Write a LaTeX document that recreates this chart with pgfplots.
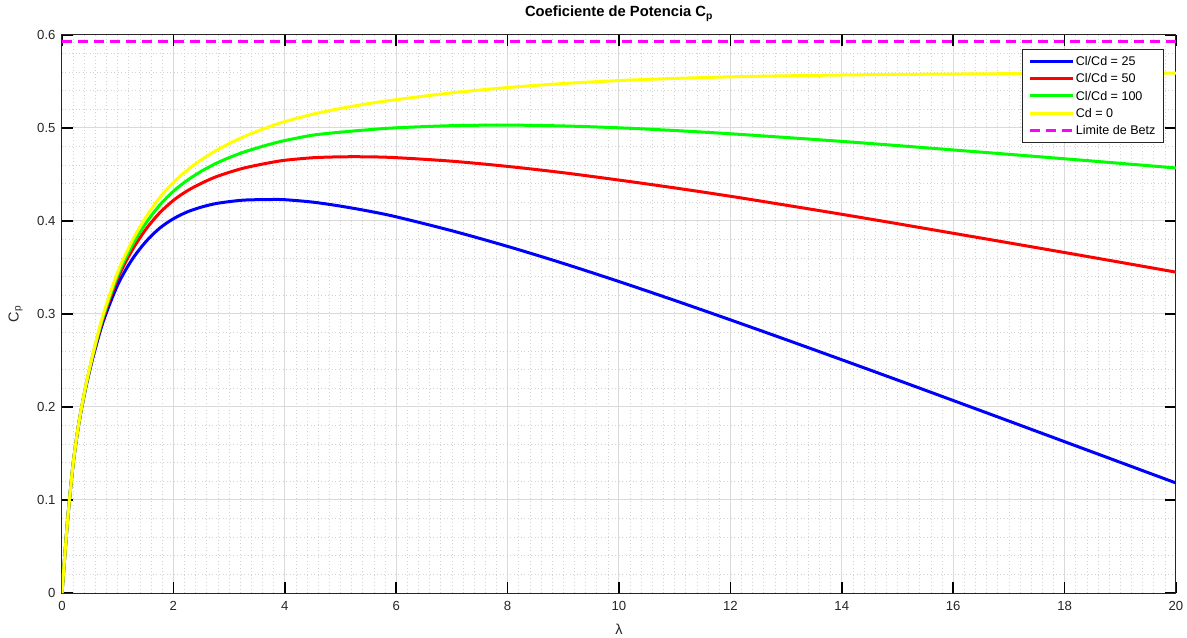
\documentclass[border=0pt]{standalone}
\usepackage{pgfplots}
\pgfplotsset{compat=1.18}
\usepackage{fontspec}
\setmainfont{Liberation Sans}
\definecolor{axgray}{HTML}{262626}
\definecolor{gridmaj}{HTML}{DADADA}
\definecolor{gridmin}{HTML}{D2D2D2}
\definecolor{mblue}{RGB}{0,0,255}
\definecolor{mred}{RGB}{255,0,0}
\definecolor{mgreen}{RGB}{0,255,0}
\definecolor{myellow}{RGB}{255,255,0}
\definecolor{mmagenta}{RGB}{255,0,255}

% curvas (lambda, Cp)
\pgfplotstableread{
l cp
0 0
0.1 0.078
0.2 0.139
0.3 0.182
0.4 0.215
0.5 0.243
0.6 0.268
0.75 0.3015
1.0 0.345
1.25 0.3775
1.5 0.4035
1.75 0.4248
2.0 0.4415
2.25 0.4548
2.5 0.4658
2.75 0.4752
3.0 0.4832
3.25 0.4903
3.5 0.4964
3.75 0.5019
4.0 0.5069
4.5 0.5148
5.0 0.521
5.5 0.5262
6.0 0.5305
7.0 0.5378
8.0 0.5435
9.0 0.5478
10.0 0.551
11.0 0.5533
12.0 0.555
13.0 0.5561
14.0 0.557
15.0 0.5576
16.0 0.558
17.0 0.5584
18.0 0.5587
19.0 0.5589
20.0 0.559
}\cdzero
\pgfplotstableread{
l cp
0 0
0.1 0.078
0.2 0.139
0.3 0.1818
0.4 0.2145
0.5 0.2422
0.6 0.2668
0.75 0.2994
1.0 0.3417
1.25 0.3727
1.5 0.3972
1.75 0.4168
2.0 0.432
2.25 0.4438
2.5 0.4534
2.75 0.4615
3.0 0.4681
3.25 0.4738
3.5 0.4785
3.75 0.4828
4.0 0.4865
4.5 0.4923
5.0 0.4955
5.5 0.4981
6.0 0.5002
7.0 0.5025
8.0 0.5031
9.0 0.5022
10.0 0.5002
11.0 0.4973
12.0 0.4938
13.0 0.4898
14.0 0.4856
15.0 0.4811
16.0 0.4764
17.0 0.4717
18.0 0.4669
19.0 0.462
20.0 0.457
}\clcdcien
\pgfplotstableread{
l cp
0 0
0.1 0.078
0.2 0.1389
0.3 0.1816
0.4 0.2141
0.5 0.2414
0.6 0.2656
0.75 0.2974
1.0 0.3382
1.25 0.3677
1.5 0.3906
1.75 0.4085
2.0 0.4222
2.25 0.4325
2.5 0.4405
2.75 0.4472
3.0 0.4523
3.25 0.4567
3.5 0.46
3.75 0.4629
4.0 0.4653
4.5 0.468
5.0 0.469
5.5 0.469
6.0 0.4681
7.0 0.4643
8.0 0.4587
9.0 0.4519
10.0 0.444
11.0 0.4356
12.0 0.4266
13.0 0.417
14.0 0.4072
15.0 0.3971
16.0 0.3868
17.0 0.3765
18.0 0.3661
19.0 0.3556
20.0 0.345
}\clcdcincuenta
\pgfplotstableread{
l cp
0 0
0.1 0.078
0.2 0.1387
0.3 0.1811
0.4 0.2132
0.5 0.2398
0.6 0.2632
0.75 0.2936
1.0 0.3313
1.25 0.3578
1.5 0.3774
1.75 0.3921
2.0 0.4024
2.25 0.4098
2.5 0.4149
2.75 0.4186
3.0 0.4208
3.25 0.4224
3.5 0.4229
3.75 0.4231
4.0 0.4229
4.5 0.4203
5.0 0.416
5.5 0.4107
6.0 0.4045
7.0 0.3895
8.0 0.3727
9.0 0.3544
10.0 0.3349
11.0 0.3146
12.0 0.2937
13.0 0.2724
14.0 0.2508
15.0 0.229
16.0 0.207
17.0 0.1849
18.0 0.1627
19.0 0.1405
20.0 0.1183
}\clcdveinticinco

\begin{document}
\begin{tikzpicture}
\path[use as bounding box] (-62bp,-45bp) rectangle (1125bp,593bp);
\begin{axis}[
  at={(0,0)}, anchor=south west,
  scale only axis, width=1114bp, height=558bp,
  xmin=0, xmax=20, ymin=0, ymax=0.6,
  xtick={0,2,4,6,8,10,12,14,16,18,20},
  ytick={0,0.1,0.2,0.3,0.4,0.5,0.6},
  minor x tick num=9, minor y tick num=4,
  grid=both,
  major grid style={gridmaj, line width=1bp},
  minor grid style={gridmin, line width=0.7bp, dash pattern=on 1bp off 2.5bp},
  axis line style={axgray, line width=1bp},
  tick style={black, line width=1.5bp},
  major tick length=11bp, minor tick length=0bp,
  tick align=inside, tick pos=both,
  /pgf/number format/assume math mode=true,
  ticklabel style={font=\fontsize{13.2}{15}\selectfont, text=axgray},
  xticklabel style={yshift=-5bp},
  yticklabel style={xshift=-3bp},
  every axis title shift=0pt,
  title={\textbf{Coeficiente de Potencia C\textsubscript{p}}},
  title style={at={(axis description cs:0.5,1.0323)}, anchor=base, font=\fontsize{14.8}{17}\selectfont},
  xlabel={λ},
  xlabel style={at={(axis description cs:0.5,-0.0735)}, anchor=base, font=\fontsize{14.5}{17}\selectfont, text=axgray},
  ylabel={C\textsubscript{p}},
  ylabel style={at={(axis description cs:-0.039,0.5)}, anchor=base, font=\fontsize{14.5}{17}\selectfont, text=axgray},
  legend image code/.code={\draw[#1] (0bp,0bp) -- (43bp,0bp);},
  legend style={at={(0.9886,0.9744)}, anchor=north east, draw=axgray, line width=0.8bp,
    fill=white, font=\fontsize{12.6}{15}\selectfont, inner xsep=6bp, inner ysep=5.3bp,
    row sep=4.8bp, cells={anchor=west},
    nodes={inner sep=1.5bp, text height=9.2bp, text depth=0.3bp}},
  every axis plot/.append style={line width=3bp},
]
\addplot[color=mblue, smooth] table[x=l, y=cp] {\clcdveinticinco};
\addlegendentry{Cl/Cd = 25}
\addplot[color=mred, smooth] table[x=l, y=cp] {\clcdcincuenta};
\addlegendentry{Cl/Cd = 50}
\addplot[color=mgreen, smooth] table[x=l, y=cp] {\clcdcien};
\addlegendentry{Cl/Cd = 100}
\addplot[color=myellow, smooth] table[x=l, y=cp] {\cdzero};
\addlegendentry{Cd = 0}
\addplot[color=mmagenta, dash pattern=on 10bp off 6bp] coordinates {(0,0.5926) (20,0.5926)};
\addlegendentry{Limite de Betz}
\end{axis}
\end{tikzpicture}
\end{document}
